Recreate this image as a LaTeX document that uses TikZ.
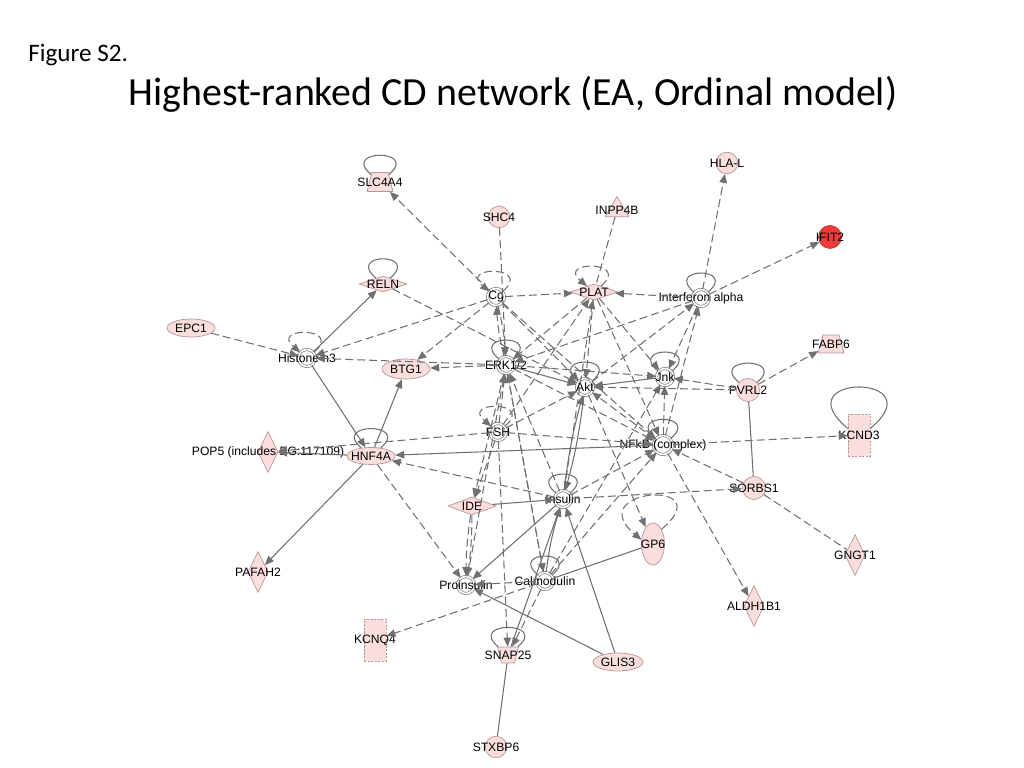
\documentclass[tikz,border=0pt]{standalone}
\usepackage{fontspec}
\setmainfont{Carlito}
\newfontfamily\netfont{Liberation Sans}
\usetikzlibrary{shapes.geometric,arrows.meta}
\definecolor{genefill}{RGB}{250,222,222}
\definecolor{geneline}{RGB}{185,150,150}
\definecolor{hotfill}{RGB}{238,58,58}
\definecolor{edgec}{RGB}{112,112,112}
\definecolor{cplxc}{RGB}{125,125,125}

\begin{document}
\begin{tikzpicture}[x=0.2mm, y=-0.2mm, every loop/.style={},
	labeltext/.style={font=\netfont\fontsize{6.9}{7}\selectfont, inner sep=0pt, text=black},
	lbl/.style={label={[labeltext]center:{#1}}},
	cplx/.style={circle, draw=cplxc, double=white, double distance=0.9pt, line width=0.4pt, fill=white, minimum size=3.4mm, inner sep=0pt},
	gene/.style={draw=geneline, line width=0.4pt, fill=genefill, inner sep=1pt},
	blob/.style={gene, circle, minimum size=4.3mm},
	oval/.style={gene, ellipse, minimum width=9.6mm, minimum height=3.6mm},
	tall oval/.style={gene, ellipse, minimum width=4.6mm, minimum height=8.4mm},
	rhomb/.style={gene, diamond, minimum width=9.6mm, minimum height=3.2mm},
	tall rhomb/.style={gene, diamond, minimum width=4mm, minimum height=8.2mm},
	trap/.style={gene, trapezium, trapezium angle=73, trapezium stretches=true, minimum width=5.2mm, minimum height=3.8mm},
	tri/.style={gene, regular polygon, regular polygon sides=3, minimum size=5.4mm},
	chan/.style={gene, rectangle, dash pattern=on 1.2pt off 0.8pt, minimum width=4.4mm, minimum height=8.4mm},
	wire/.style={draw=edgec, line width=0.6pt},
	act/.style={wire, -{Triangle[length=1.8mm, width=1.5mm]}},
	dwire/.style={wire, dash pattern=on 1.6mm off 0.8mm},
	dact/.style={act, dash pattern=on 1.6mm off 0.8mm},
	sloop/.style={wire, out=40, in=140, looseness=1, min distance=8mm},
	dloop/.style={dact, out=40, in=140, looseness=1, min distance=8mm}]

	\useasboundingbox (0,0) rectangle (1024,768);

	\node[anchor=base west, inner sep=0pt, font=\fontsize{14.3}{16}\selectfont] (fig) at (28,62) {Figure S2.};
	\node[anchor=base, inner sep=0pt, font=\fontsize{22.7}{26}\selectfont] (title) at (513,106) {Highest-ranked CD network (EA, Ordinal model)};

	\node[trap, lbl=SLC4A4] (slc) at (380,182) {};
	\node[blob, lbl=SHC4] (shc) at (499,217) {};
	\node[tri, lbl=INPP4B] (inpp) at (617,210) {};
	\node[blob, lbl=HLA-L] (hla) at (727,163) {};
	\node[blob, fill=hotfill, draw=hotfill!85!black, minimum size=4.6mm, lbl=IFIT2] (ifit) at (830,237) {};
	\node[rhomb, lbl=RELN] (reln) at (383,284) {};
	\node[cplx, lbl=Cg] (cg) at (496,297) {};
	\node[rhomb, lbl=PLAT] (plat) at (594,292) {};
	\node[cplx, lbl=Interferon alpha] (ifna) at (701,298) {};
	\node[oval, lbl=EPC1] (epc) at (191,328) {};
	\node[cplx, lbl=Histone h3] (hist) at (307,358) {};
	\node[oval, minimum height=4mm, lbl=BTG1] (btg) at (406,369) {};
	\node[cplx, lbl=ERK1/2] (erk) at (506,365) {};
	\node[cplx, lbl=Akt] (akt) at (585,387) {};
	\node[cplx, lbl=Jnk] (jnk) at (665,377) {};
	\node[blob, minimum size=4.6mm, lbl=PVRL2] (pvrl) at (748,390) {};
	\node[trap, minimum height=3.6mm, lbl=FABP6] (fabp) at (831,344) {};
	\node[cplx, lbl=FSH] (fsh) at (498,432) {};
	\node[cplx, minimum size=3.8mm, lbl=NFkB (complex)] (nfkb) at (663,445) {};
	\node[chan, lbl=KCND3] (kcnd) at (859,435) {};
	\node[tall rhomb, lbl=POP5 (includes EG:117109)] (pop) at (268,452) {};
	\node[oval, minimum height=3.4mm, lbl=HNF4A] (hnf) at (371,456) {};
	\node[blob, minimum size=4.6mm, lbl=SORBS1] (sorbs) at (754,488) {};
	\node[rhomb, minimum height=3.6mm, lbl=IDE] (ide) at (472,506) {};
	\node[cplx, lbl=Insulin] (ins) at (563,499) {};
	\node[tall oval, lbl=GP6] (gp) at (653,544) {};
	\node[tall rhomb, lbl=GNGT1] (gngt) at (855,555) {};
	\node[tall rhomb, lbl=PAFAH2] (pafah) at (258,572) {};
	\node[cplx, lbl=Proinsulin] (proins) at (466,585) {};
	\node[cplx, lbl=Calmodulin] (calm) at (545,581) {};
	\node[tall rhomb, lbl=ALDH1B1] (aldh) at (754,606) {};
	\node[chan, lbl=KCNQ4] (kcnq) at (375,640) {};
	\node[trap, shape border rotate=180, minimum width=4.2mm, minimum height=3.2mm, lbl=SNAP25] (snap) at (508,655) {};
	\node[oval, minimum width=10mm, lbl=GLIS3] (glis) at (618,662) {};
	\node[blob, lbl=STXBP6] (stx) at (496,747) {};

	\path
	(slc) edge[sloop] (slc)
	(reln) edge[sloop] (reln)
	(cg) edge[dloop] (cg)
	(plat) edge[dloop] (plat)
	(ifna) edge[sloop] (ifna)
	(hist) edge[dloop] (hist)
	(erk) edge[sloop] (erk)
	(akt) edge[sloop] (akt)
	(jnk) edge[sloop] (jnk)
	(pvrl) edge[sloop] (pvrl)
	(fsh) edge[dloop] (fsh)
	(nfkb) edge[sloop] (nfkb)
	(hnf) edge[sloop] (hnf)
	(ins) edge[sloop] (ins)
	(calm) edge[sloop] (calm)
	(snap) edge[sloop] (snap)
	(kcnd.30) edge[sloop, min distance=17.2mm] (kcnd.150)
	(gp.60) edge[dloop, min distance=16mm] (gp.160);

	\path
	(hist) edge[act] (reln)
	(hist) edge[act] (hnf)
	(hnf) edge[act] (btg)
	(nfkb) edge[act] (hnf)
	(hnf) edge[act] (pop)
	(hnf) edge[act] (pafah)
	(erk) edge[act] (akt)
	(jnk) edge[act] (akt)
	(akt) edge[act, bend left=4] (ins)
	(ins) edge[act, bend left=4] (akt)
	(ide) edge[act] (ins)
	(ins) edge[act] (proins)
	(glis) edge[act] (proins)
	(glis) edge[act] (ins)
	(calm) edge[act, bend left=5] (ins)
	(snap) edge[act] (ins)
	(pvrl) edge[wire] (sorbs)
	(gp) edge[wire] (calm)
	(snap) edge[wire] (stx);

	\path
	(cg) edge[dact] (slc)
	(shc) edge[dact] (erk)
	(inpp) edge[dwire] (plat)
	(ifna) edge[dact] (hla)
	(ifna) edge[dact] (ifit)
	(reln) edge[dact] (akt)
	(epc) edge[dact] (hist)
	(cg) edge[dact] (hist)
	(cg) edge[dact] (btg)
	(erk) edge[dact] (hist)
	(erk) edge[dact] (btg)
	(cg) edge[dact] (plat)
	(ifna) edge[dact] (plat)
	(cg) edge[dact, bend left=5] (erk)
	(erk) edge[dact, bend left=5] (cg)
	(cg) edge[dact] (akt)
	(cg) edge[dact] (nfkb)
	(ifna) edge[dact] (erk)
	(akt) edge[dact] (ifna)
	(ifna) edge[dact] (jnk)
	(nfkb) edge[dact] (ifna)
	(plat) edge[dact] (erk)
	(plat) edge[dact] (akt)
	(plat) edge[dact] (jnk)
	(plat) edge[dact] (nfkb)
	(fsh) edge[dact] (plat)
	(ins) edge[dact] (plat)
	(erk) edge[dact] (jnk)
	(erk) edge[dact] (nfkb)
	(pvrl) edge[dact] (jnk)
	(pvrl) edge[dact] (akt)
	(pvrl) edge[dact] (fabp)
	(nfkb) edge[dact] (akt)
	(nfkb) edge[dact] (jnk)
	(fsh) edge[dact] (erk)
	(ins) edge[dact] (erk)
	(calm) edge[dact] (erk)
	(proins) edge[dact] (erk)
	(erk) edge[dact] (calm)
	(fsh) edge[dact] (akt)
	(fsh) edge[dact] (nfkb)
	(fsh) edge[dact] (pop)
	(fsh) edge[dact] (ide)
	(erk) edge[dact] (ide)
	(ide) edge[dact, bend left=4] (proins)
	(ide) edge[dact, bend right=4] (proins)
	(fsh) edge[dact] (snap)
	(hnf) edge[dact] (proins)
	(ins) edge[dact] (hnf)
	(ins) edge[dact] (nfkb)
	(ins) edge[dact] (sorbs)
	(sorbs) edge[dact] (nfkb)
	(sorbs) edge[dwire] (gngt)
	(nfkb) edge[dact] (kcnd)
	(nfkb) edge[dact] (aldh)
	(akt) edge[dact] (gp)
	(calm) edge[dact] (proins)
	(calm) edge[dact] (kcnq)
	(calm) edge[dact] (nfkb)
	(calm) edge[dact] (jnk)
	(calm) edge[dact] (snap);

\end{tikzpicture}
\end{document}
